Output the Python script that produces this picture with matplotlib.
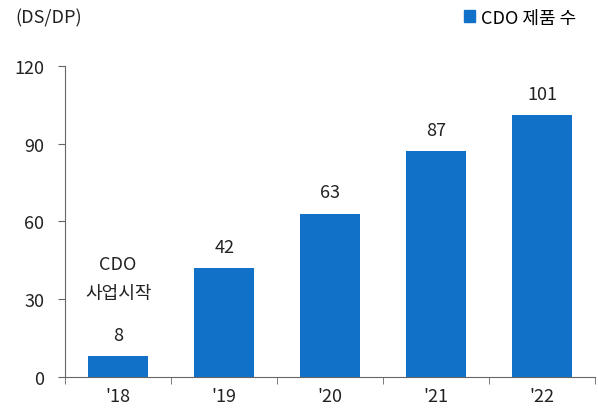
import matplotlib.pyplot as plt
from matplotlib.patches import Patch

plt.rcParams['font.family'] = ['Noto Sans CJK KR', 'DejaVu Sans']

years = ["'18", "'19", "'20", "'21", "'22"]
products = [8, 42, 63, 87, 101]
bar_color = '#1170c8'
fs = 13

fig = plt.figure(figsize=(5.98, 4.10), dpi=100)
ax = fig.add_axes([0.109, 0.078, 0.886, 0.759])

x = range(len(years))
ax.bar(x, products, width=0.56, color=bar_color, zorder=2)

for i, v in enumerate(products):
    ax.annotate(str(v), (i, v), xytext=(0, 9), textcoords='offset points',
                ha='center', va='bottom', fontsize=fs, color='#222222')

ax.text(0, 38, 'CDO\n사업시작', ha='center', va='center', fontsize=fs,
        color='#222222', linespacing=1.75)

ax.set_xlim(-0.5, len(years) - 0.5)
ax.set_ylim(0, 120)
ax.set_yticks([0, 30, 60, 90, 120])
ax.set_xticks(list(x))
ax.set_xticklabels(years)
ax.set_xticks([i - 0.5 for i in range(len(years) + 1)], minor=True)
ax.tick_params(axis='x', which='major', length=0, pad=7, labelsize=fs, labelcolor='#222222')
ax.tick_params(axis='x', which='minor', length=5, direction='out', color='#666666')
ax.tick_params(axis='y', length=5, direction='out', pad=10, labelsize=fs,
               labelcolor='#222222', color='#666666')

for s in ['top', 'right']:
    ax.spines[s].set_visible(False)
for s in ['left', 'bottom']:
    ax.spines[s].set_color('#666666')

fig.text(0.025, 0.955, '(DS/DP)', fontsize=fs, color='#222222', va='center')
fig.legend(handles=[Patch(color=bar_color, label='CDO 제품 수')],
           loc='center right', bbox_to_anchor=(0.975, 0.955), frameon=False,
           fontsize=fs, handlelength=0.6, handleheight=0.6, handletextpad=0.3,
           borderaxespad=0)

fig.savefig('out.png', dpi=100)
